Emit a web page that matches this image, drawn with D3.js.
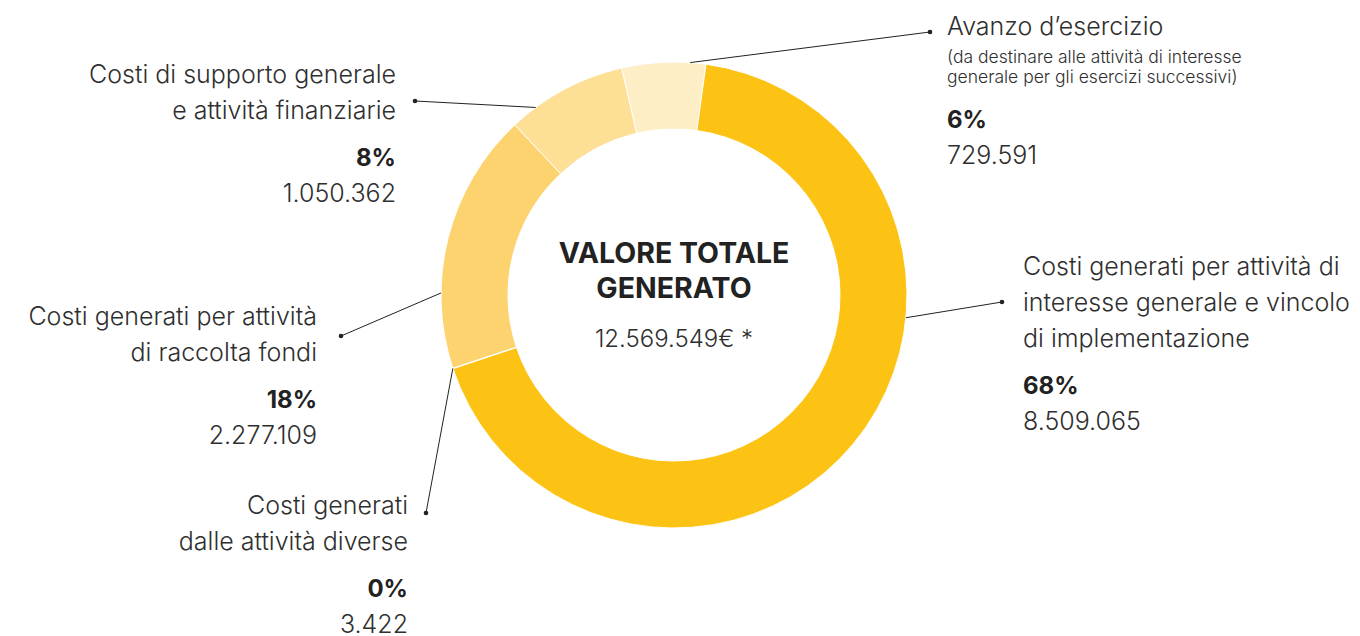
<!DOCTYPE html>
<html>
<head>
<meta charset="utf-8">
<script src="https://cdn.jsdelivr.net/npm/d3@7"></script>
<style>
  html, body { margin: 0; padding: 0; background: #fff; }
  svg { display: block; font-family: Inter, Roboto, "Noto Sans", sans-serif; }
</style>
</head>
<body>
<div id="chart"></div>
<script>
// values (euro)
var categories = ["avanzo", "interesse", "diverse", "raccolta", "supporto"];
var values = [729591, 8509065, 3422, 2277109, 1050362];
var titles = [
  ["Avanzo d\u2019esercizio"],
  ["Costi generati per attività di", "interesse generale e vincolo", "di implementazione"],
  ["Costi generati", "dalle attività diverse"],
  ["Costi generati per attività", "di raccolta fondi"],
  ["Costi di supporto generale", "e attività finanziarie"]
];
var notes = [
  ["(da destinare alle attività di interesse", "generale per gli esercizi successivi)"],
  [], [], [], []
];
var centerTitle = ["VALORE TOTALE", "GENERATO"];

var colors = ["#feeec6", "#fcc315", "#fdd36f", "#fdd36f", "#fddf95"];

// where each label sits and where its leader touches the ring
var layout = [
  { x: 947, y: 35, anchor: "start", dot: [930, 32], angle: 4 },
  { x: 1023, y: 275, anchor: "start", dot: [1002, 302], angle: 95.6 },
  { x: 408, y: 514, anchor: "end", dot: [426, 513], angle: null },
  { x: 317, y: 325, anchor: "end", dot: [341, 336], angle: 270.5 },
  { x: 396, y: 83, anchor: "end", dot: [415, 101], angle: 323.6 }
];

var W = 1360, H = 636;
var cx = 674, cy = 295, rOuter = 233, rInner = 166;

var it = d3.formatLocale({ decimal: ",", thousands: ".", grouping: [3], currency: ["", "€"] });
var fmtNum = it.format(",d");
var fmtPct = d3.format(".0%");
var total = d3.sum(values);

var svg = d3.select("#chart").append("svg")
  .attr("width", W)
  .attr("height", H);

var rows = categories.map(function(c, i) {
  return { key: c, value: values[i], i: i };
});

var startA = -13 * Math.PI / 180;
var pie = d3.pie()
  .sort(null)
  .value(function(d) { return d.value; })
  .startAngle(startA)
  .endAngle(startA + 2 * Math.PI);

var arc = d3.arc().innerRadius(rInner).outerRadius(rOuter);
var arcs = pie(rows);

var g = svg.append("g").attr("transform", "translate(" + cx + "," + cy + ")");

g.selectAll("path.slice")
  .data(arcs)
  .enter().append("path")
  .attr("class", "slice")
  .attr("d", arc)
  .attr("fill", function(d) { return colors[d.data.i]; })
  .attr("stroke", "#fff")
  .attr("stroke-width", 1);

// leaders
arcs.forEach(function(a) {
  var L = layout[a.data.i];
  var ang = L.angle == null ? (a.startAngle + a.endAngle) / 2 : L.angle * Math.PI / 180;
  var p = d3.pointRadial(ang, rOuter);
  svg.append("line")
    .attr("x1", cx + p[0]).attr("y1", cy + p[1])
    .attr("x2", L.dot[0]).attr("y2", L.dot[1])
    .attr("stroke", "#222")
    .attr("stroke-width", 1);
  svg.append("circle")
    .attr("cx", L.dot[0]).attr("cy", L.dot[1])
    .attr("r", 2.3)
    .attr("fill", "#222");
});

// labels
rows.forEach(function(d) {
  var L = layout[d.i];
  var y = L.y;
  var t = svg.append("g").attr("text-anchor", L.anchor);
  titles[d.i].forEach(function(line, k) {
    if (k > 0) y += 36;
    t.append("text").attr("x", L.x).attr("y", y)
      .attr("font-size", 25).attr("font-weight", 300).attr("fill", "#2f2f2f")
      .text(line);
  });
  notes[d.i].forEach(function(line, k) {
    y += k == 0 ? 28 : 20;
    t.append("text").attr("x", L.x).attr("y", y)
      .attr("font-size", 17.5).attr("font-weight", 300).attr("fill", "#2f2f2f")
      .text(line);
  });
  y += notes[d.i].length ? 45 : 47;
  t.append("text").attr("x", L.x).attr("y", y)
    .attr("font-size", 24).attr("font-weight", 700).attr("fill", "#222")
    .text(fmtPct(d.value / total));
  y += 36;
  t.append("text").attr("x", L.x).attr("y", y)
    .attr("font-size", 25).attr("font-weight", 300).attr("fill", "#2f2f2f")
    .text(fmtNum(d.value));
});

// centre
var c = svg.append("g").attr("text-anchor", "middle");
centerTitle.forEach(function(line, k) {
  c.append("text").attr("x", cx).attr("y", 263 + k * 35)
    .attr("font-size", 28.5).attr("font-weight", 700).attr("fill", "#222")
    .text(line);
});
c.append("text").attr("x", cx).attr("y", 347)
  .attr("font-size", 24).attr("font-weight", 300).attr("fill", "#2f2f2f")
  .text(fmtNum(total) + "€ *");
</script>
</body>
</html>
